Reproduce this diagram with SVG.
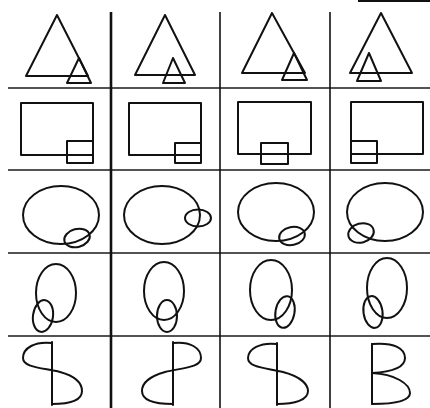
<svg xmlns="http://www.w3.org/2000/svg" width="430" height="408" viewBox="0 0 430 408">
<style>
.s{fill:none;stroke:#111;stroke-width:2;stroke-linejoin:round;stroke-linecap:round}
.g{stroke:#1a1a1a;stroke-width:1.5;fill:none}
.gv{stroke:#111;stroke-width:2;fill:none}
</style>
<rect width="430" height="408" fill="#fff"/>
<g id="grid">
<line class="g" x1="8" y1="88" x2="430" y2="88"/>
<line class="g" x1="8" y1="170" x2="430" y2="170"/>
<line class="g" x1="8" y1="253" x2="430" y2="253"/>
<line class="g" x1="8" y1="336" x2="430" y2="336"/>
<line class="gv" x1="111" y1="12" x2="111" y2="408" style="stroke-width:2.6"/>
<line class="gv" x1="220" y1="12" x2="220" y2="408" style="stroke-width:1.6"/>
<line class="gv" x1="330" y1="12" x2="330" y2="408" style="stroke-width:1.6"/>
<line class="gv" x1="358" y1="1" x2="430" y2="1"/>
</g>
<g id="r1c1"><polygon class="s" points="57,15 26,76 88,76"/><polygon class="s" points="79,58 67,83 91,83"/></g>
<g id="r1c2"><polygon class="s" points="165,15 135,75 195,75"/><polygon class="s" points="173,58 163,83 185,83"/></g>
<g id="r1c3"><polygon class="s" points="272,13 242,73 305,73"/><polygon class="s" points="294,53 282,80 307,80"/></g>
<g id="r1c4"><polygon class="s" points="381,13 350,73 412,73"/><polygon class="s" points="369,53 357,81 381,81"/></g>
<g id="r2c1"><rect class="s" x="21" y="103" width="72" height="52"/><rect class="s" x="67" y="141" width="26" height="22"/></g>
<g id="r2c2"><rect class="s" x="129" y="103" width="72" height="52"/><rect class="s" x="175" y="143" width="26" height="20"/></g>
<g id="r2c3"><rect class="s" x="238" y="102" width="73" height="52"/><rect class="s" x="261" y="143" width="27" height="21"/></g>
<g id="r2c4"><rect class="s" x="351" y="102" width="72" height="52"/><rect class="s" x="351" y="141" width="26" height="22"/></g>
<g id="r3c1"><ellipse class="s" cx="61" cy="215" rx="38" ry="29"/><ellipse class="s" cx="77" cy="238" rx="13" ry="9" transform="rotate(-15 77 238)"/></g>
<g id="r3c2"><ellipse class="s" cx="162" cy="215" rx="38" ry="29"/><ellipse class="s" cx="198" cy="218" rx="13" ry="8.5"/></g>
<g id="r3c3"><ellipse class="s" cx="276" cy="212" rx="38" ry="29"/><ellipse class="s" cx="292" cy="236" rx="13" ry="9" transform="rotate(-12 292 236)"/></g>
<g id="r3c4"><ellipse class="s" cx="385" cy="212" rx="38" ry="29"/><ellipse class="s" cx="361" cy="233" rx="13" ry="9.5" transform="rotate(-15 361 233)"/></g>
<g id="r4c1"><ellipse class="s" cx="56" cy="293" rx="20" ry="29"/><ellipse class="s" cx="43" cy="316" rx="10" ry="16" transform="rotate(8 43 316)"/></g>
<g id="r4c2"><ellipse class="s" cx="164" cy="291" rx="20" ry="29"/><ellipse class="s" cx="167" cy="316" rx="10" ry="16"/></g>
<g id="r4c3"><ellipse class="s" cx="271" cy="290" rx="21" ry="30"/><ellipse class="s" cx="285" cy="312" rx="9.5" ry="16" transform="rotate(10 285 312)"/></g>
<g id="r4c4"><ellipse class="s" cx="387" cy="288" rx="20" ry="30"/><ellipse class="s" cx="373" cy="312" rx="9.5" ry="16" transform="rotate(-8 373 312)"/></g>
<g id="r5c1"><line class="s" x1="52" y1="342" x2="52" y2="405"/><path class="s" d="M52,343 C35,341 23,348 23,358 C23,368 45,368 60,372 C78,377 82,385 82,391 C82,400 70,404 52,404"/></g>
<g id="r5c2"><line class="s" x1="173" y1="342" x2="173" y2="405"/><path class="s" d="M173,343 C190,341 201,348 201,358 C201,368 180,368 165,372 C147,377 142,385 142,391 C142,400 154,404 173,404"/></g>
<g id="r5c3"><line class="s" x1="277" y1="343" x2="277" y2="405"/><path class="s" d="M277,344 C260,342 248,349 248,358 C248,368 268,368 283,372 C302,377 308,385 308,391 C308,400 295,404 277,404"/></g>
<g id="r5c4"><line class="s" x1="372" y1="344" x2="372" y2="404"/><path class="s" d="M372,344 C395,342 405,349 405,358 C405,368 390,372 372,373 C395,374 410,384 410,393 C410,401 395,404 372,404"/></g>
</svg>
